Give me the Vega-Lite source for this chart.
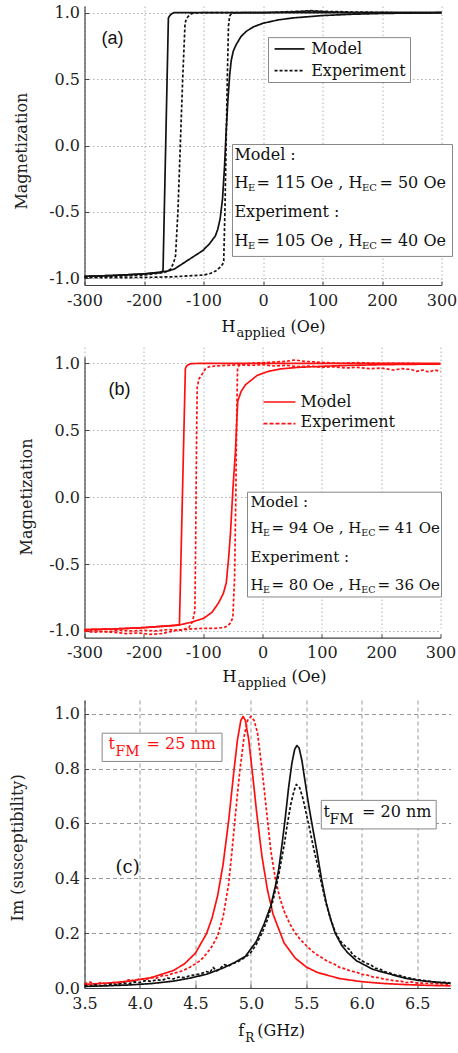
{
"$schema": "https://vega.github.io/schema/vega-lite/v6.json",
"background": "white",
"padding": {"left": 8.5, "top": 4, "right": 0, "bottom": 0},
"config": {
  "view": {"stroke": null},
  "font": "DejaVu Serif",
  "text": {"font": "DejaVu Serif", "fontSize": 16, "color": "#111"},
  "axis": {"labelFont": "DejaVu Serif", "labelFontSize": 16, "labelColor": "#222", "titleFont": "DejaVu Serif", "titleFontSize": 16, "titleFontWeight": "normal", "titleColor": "#222", "domainColor": "#444", "domainWidth": 1.2, "tickColor": "#444", "tickSize": -4, "tickWidth": 1, "labelFlush": false, "labelOverlap": false, "gridWidth": 1},
  "axisX": {"labelPadding": 11},
  "axisY": {"labelPadding": 9, "titleBaseline": "middle", "titleAlign": "center", "titleAngle": -90}
},
"spacing": 62,
"bounds": "flush",
"vconcat": [
{
"width": 357, "height": 279,
"layer": [
{"data": {"values": [
{"b":"Md","s":"Model","H":300,"M":1.0},{"b":"Md","s":"Model","H":200,"M":1.0},{"b":"Md","s":"Model","H":100,"M":1.0},{"b":"Md","s":"Model","H":0,"M":1.0},{"b":"Md","s":"Model","H":-100,"M":1.0},{"b":"Md","s":"Model","H":-150,"M":1.0},{"b":"Md","s":"Model","H":-154,"M":0.99},{"b":"Md","s":"Model","H":-157,"M":0.975},{"b":"Md","s":"Model","H":-159,"M":0.96},{"b":"Md","s":"Model","H":-168,"M":-0.94},{"b":"Md","s":"Model","H":-170,"M":-0.95},{"b":"Md","s":"Model","H":-175,"M":-0.958},{"b":"Md","s":"Model","H":-200,"M":-0.967},{"b":"Md","s":"Model","H":-250,"M":-0.978},{"b":"Md","s":"Model","H":-300,"M":-0.985},
{"b":"Ma","s":"Model","H":-300,"M":-0.985},{"b":"Ma","s":"Model","H":-250,"M":-0.978},{"b":"Ma","s":"Model","H":-200,"M":-0.966},{"b":"Ma","s":"Model","H":-170,"M":-0.952},{"b":"Ma","s":"Model","H":-160,"M":-0.945},{"b":"Ma","s":"Model","H":-149,"M":-0.93},{"b":"Ma","s":"Model","H":-125,"M":-0.86},{"b":"Ma","s":"Model","H":-101,"M":-0.79},{"b":"Ma","s":"Model","H":-90,"M":-0.74},{"b":"Ma","s":"Model","H":-80,"M":-0.68},{"b":"Ma","s":"Model","H":-76,"M":-0.63},{"b":"Ma","s":"Model","H":-72,"M":-0.55},{"b":"Ma","s":"Model","H":-68,"M":-0.4},{"b":"Ma","s":"Model","H":-64.7,"M":-0.16},{"b":"Ma","s":"Model","H":-62,"M":0.1},{"b":"Ma","s":"Model","H":-59,"M":0.34},{"b":"Ma","s":"Model","H":-56,"M":0.53},{"b":"Ma","s":"Model","H":-53.4,"M":0.64},{"b":"Ma","s":"Model","H":-50,"M":0.71},{"b":"Ma","s":"Model","H":-45,"M":0.76},{"b":"Ma","s":"Model","H":-37,"M":0.82},{"b":"Ma","s":"Model","H":-28,"M":0.86},{"b":"Ma","s":"Model","H":-15,"M":0.895},{"b":"Ma","s":"Model","H":0,"M":0.92},{"b":"Ma","s":"Model","H":25,"M":0.945},{"b":"Ma","s":"Model","H":50,"M":0.96},{"b":"Ma","s":"Model","H":100,"M":0.978},{"b":"Ma","s":"Model","H":150,"M":0.988},{"b":"Ma","s":"Model","H":200,"M":0.994},{"b":"Ma","s":"Model","H":300,"M":1.0},
{"b":"Ed","s":"Experiment","H":300,"M":1.0},{"b":"Ed","s":"Experiment","H":250,"M":1.0},{"b":"Ed","s":"Experiment","H":200,"M":1.002},{"b":"Ed","s":"Experiment","H":150,"M":1.005},{"b":"Ed","s":"Experiment","H":100,"M":1.01},{"b":"Ed","s":"Experiment","H":80,"M":1.015},{"b":"Ed","s":"Experiment","H":60,"M":1.01},{"b":"Ed","s":"Experiment","H":30,"M":1.005},{"b":"Ed","s":"Experiment","H":0,"M":1.0},{"b":"Ed","s":"Experiment","H":-50,"M":1.0},{"b":"Ed","s":"Experiment","H":-100,"M":1.0},{"b":"Ed","s":"Experiment","H":-115,"M":0.998},{"b":"Ed","s":"Experiment","H":-121,"M":0.99},{"b":"Ed","s":"Experiment","H":-126,"M":0.97},{"b":"Ed","s":"Experiment","H":-129,"M":0.95},{"b":"Ed","s":"Experiment","H":-131,"M":0.92},{"b":"Ed","s":"Experiment","H":-135,"M":0.5},{"b":"Ed","s":"Experiment","H":-139,"M":0},{"b":"Ed","s":"Experiment","H":-143,"M":-0.5},{"b":"Ed","s":"Experiment","H":-147,"M":-0.83},{"b":"Ed","s":"Experiment","H":-150,"M":-0.88},{"b":"Ed","s":"Experiment","H":-155,"M":-0.93},{"b":"Ed","s":"Experiment","H":-165,"M":-0.955},{"b":"Ed","s":"Experiment","H":-200,"M":-0.975},{"b":"Ed","s":"Experiment","H":-250,"M":-0.985},{"b":"Ed","s":"Experiment","H":-300,"M":-0.99},
{"b":"Ea","s":"Experiment","H":-300,"M":-0.995},{"b":"Ea","s":"Experiment","H":-250,"M":-0.995},{"b":"Ea","s":"Experiment","H":-200,"M":-0.993},{"b":"Ea","s":"Experiment","H":-150,"M":-0.988},{"b":"Ea","s":"Experiment","H":-120,"M":-0.98},{"b":"Ea","s":"Experiment","H":-100,"M":-0.975},{"b":"Ea","s":"Experiment","H":-90,"M":-0.965},{"b":"Ea","s":"Experiment","H":-84,"M":-0.955},{"b":"Ea","s":"Experiment","H":-78,"M":-0.94},{"b":"Ea","s":"Experiment","H":-72,"M":-0.915},{"b":"Ea","s":"Experiment","H":-68,"M":-0.895},{"b":"Ea","s":"Experiment","H":-66,"M":-0.87},{"b":"Ea","s":"Experiment","H":-64,"M":-0.5},{"b":"Ea","s":"Experiment","H":-62,"M":0},{"b":"Ea","s":"Experiment","H":-60,"M":0.5},{"b":"Ea","s":"Experiment","H":-58,"M":0.9},{"b":"Ea","s":"Experiment","H":-56,"M":0.975},{"b":"Ea","s":"Experiment","H":-52,"M":0.998},{"b":"Ea","s":"Experiment","H":-30,"M":1.0},{"b":"Ea","s":"Experiment","H":0,"M":1.0},{"b":"Ea","s":"Experiment","H":50,"M":1.005},{"b":"Ea","s":"Experiment","H":80,"M":1.012},{"b":"Ea","s":"Experiment","H":110,"M":1.005},{"b":"Ea","s":"Experiment","H":150,"M":1.0},{"b":"Ea","s":"Experiment","H":300,"M":1.0}
]},
 "mark": {"type": "line", "color": "#111", "strokeWidth": 1.7, "strokeJoin": "round"},
 "encoding": {
  "x": {"field": "H", "type": "quantitative", "scale": {"domain": [-300, 300], "nice": false, "zero": false},
        "axis": {"values": [-300,-250,-200,-150,-100,-50,0,50,100,150,200,250,300], "format": "d", "labelExpr": "datum.value % 100 === 0 ? replace(datum.label, '−', '-') : ''", "title": null, "grid": true, "gridDash": [1.5, 2.5], "gridColor": "#b0b0b0", "gridOpacity": {"condition": {"test": "datum.value % 100 !== 0", "value": 0}, "value": 1}}},
  "y": {"field": "M", "type": "quantitative", "scale": {"domain": [-1.05, 1.05], "nice": false, "zero": false},
        "axis": {"values": [-1,-0.75,-0.5,-0.25,0,0.25,0.5,0.75,1], "format": ".1f", "labelExpr": "abs(datum.value*2 - round(datum.value*2)) < 0.001 ? replace(datum.label, '−', '-') : ''", "title": "Magnetization", "titleX": -63.5, "titleY": 144.6, "grid": true, "gridDash": [1.5, 2.5], "gridColor": "#b0b0b0", "gridOpacity": {"condition": {"test": "abs(datum.value*2 - round(datum.value*2)) > 0.001", "value": 0}, "value": 1}}},
  "detail": {"field": "b"},
  "strokeDash": {"field": "s", "type": "nominal", "scale": {"domain": ["Model", "Experiment"], "range": [[1, 0], [3, 2]]}, "legend": null}
 }},
{"data": {"values": [{}]}, "mark": {"type": "rect", "fill": "white", "stroke": "#888", "strokeWidth": 1}, "encoding": {"x": {"datum": 9.25}, "x2": {"datum": 247.9}, "y": {"datum": 0.812}, "y2": {"datum": 0.474}}},
{"data": {"values": [{}]}, "mark": {"type": "rule", "color": "#111", "strokeWidth": 1.7}, "encoding": {"x": {"datum": 19.4}, "x2": {"datum": 69.8}, "y": {"datum": 0.727}}},
{"data": {"values": [{}]}, "mark": {"type": "rule", "color": "#111", "strokeWidth": 1.7, "strokeDash": [3, 2]}, "encoding": {"x": {"datum": 19.4}, "x2": {"datum": 69.8}, "y": {"datum": 0.564}}},
{"data": {"values": [{}]}, "mark": {"type": "text", "text": "Model", "align": "left", "baseline": "middle", "fontSize": 16}, "encoding": {"x": {"datum": 81}, "y": {"datum": 0.73}}},
{"data": {"values": [{}]}, "mark": {"type": "text", "text": "Experiment", "align": "left", "baseline": "middle", "fontSize": 16}, "encoding": {"x": {"datum": 81}, "y": {"datum": 0.564}}},
{"data": {"values": [{}]}, "mark": {"type": "rect", "fill": "white", "stroke": "#888", "strokeWidth": 1}, "encoding": {"x": {"datum": -51.3}, "x2": {"datum": 318.5}, "y": {"datum": 0.0075}, "y2": {"datum": -0.835}}},
{"data": {"values": [{}]}, "mark": {"type": "text", "text": "Model :", "align": "left", "baseline": "middle", "fontSize": 16}, "encoding": {"x": {"datum": -48}, "y": {"datum": -0.068}}},
{"data": {"values": [{}]}, "mark": {"type": "text", "text": "H", "align": "left", "baseline": "middle", "fontSize": 16}, "encoding": {"x": {"datum": -48}, "y": {"datum": -0.286}}},
{"data": {"values": [{}]}, "mark": {"type": "text", "text": "E", "align": "left", "baseline": "middle", "fontSize": 10, "dx": 13.5, "dy": 5}, "encoding": {"x": {"datum": -48}, "y": {"datum": -0.286}}},
{"data": {"values": [{}]}, "mark": {"type": "text", "text": "= 115 Oe , H", "align": "left", "baseline": "middle", "fontSize": 16, "dx": 22}, "encoding": {"x": {"datum": -48}, "y": {"datum": -0.286}}},
{"data": {"values": [{}]}, "mark": {"type": "text", "text": "EC", "align": "left", "baseline": "middle", "fontSize": 10, "dx": 127.5, "dy": 5}, "encoding": {"x": {"datum": -48}, "y": {"datum": -0.286}}},
{"data": {"values": [{}]}, "mark": {"type": "text", "text": "= 50 Oe", "align": "left", "baseline": "middle", "fontSize": 16, "dx": 145}, "encoding": {"x": {"datum": -48}, "y": {"datum": -0.286}}},
{"data": {"values": [{}]}, "mark": {"type": "text", "text": "Experiment :", "align": "left", "baseline": "middle", "fontSize": 16}, "encoding": {"x": {"datum": -48}, "y": {"datum": -0.504}}},
{"data": {"values": [{}]}, "mark": {"type": "text", "text": "H", "align": "left", "baseline": "middle", "fontSize": 16}, "encoding": {"x": {"datum": -48}, "y": {"datum": -0.722}}},
{"data": {"values": [{}]}, "mark": {"type": "text", "text": "E", "align": "left", "baseline": "middle", "fontSize": 10, "dx": 13.5, "dy": 5}, "encoding": {"x": {"datum": -48}, "y": {"datum": -0.722}}},
{"data": {"values": [{}]}, "mark": {"type": "text", "text": "= 105 Oe , H", "align": "left", "baseline": "middle", "fontSize": 16, "dx": 22}, "encoding": {"x": {"datum": -48}, "y": {"datum": -0.722}}},
{"data": {"values": [{}]}, "mark": {"type": "text", "text": "EC", "align": "left", "baseline": "middle", "fontSize": 10, "dx": 127.5, "dy": 5}, "encoding": {"x": {"datum": -48}, "y": {"datum": -0.722}}},
{"data": {"values": [{}]}, "mark": {"type": "text", "text": "= 40 Oe", "align": "left", "baseline": "middle", "fontSize": 16, "dx": 145}, "encoding": {"x": {"datum": -48}, "y": {"datum": -0.722}}},
{"data": {"values": [{}]}, "mark": {"type": "text", "text": "(a)", "align": "left", "baseline": "middle", "fontSize": 18, "font": "Liberation Sans"}, "encoding": {"x": {"datum": -271.4}, "y": {"datum": 0.805}}},
{"data": {"values": [{}]}, "mark": {"type": "text", "text": "H", "align": "left", "baseline": "alphabetic", "fontSize": 16, "dy": 47}, "encoding": {"x": {"datum": -69.7}, "y": {"datum": -1.05}}},
{"data": {"values": [{}]}, "mark": {"type": "text", "text": "applied", "align": "left", "baseline": "alphabetic", "fontSize": 13, "dx": 15, "dy": 52}, "encoding": {"x": {"datum": -69.7}, "y": {"datum": -1.05}}},
{"data": {"values": [{}]}, "mark": {"type": "text", "text": "(Oe)", "align": "left", "baseline": "alphabetic", "fontSize": 16, "dx": 69, "dy": 47}, "encoding": {"x": {"datum": -69.7}, "y": {"datum": -1.05}}}
]
},
{
"width": 356, "height": 290.65,
"layer": [
{"data": {"values": [
{"b":"Md","s":"Model","H":300,"M":1.0},{"b":"Md","s":"Model","H":0,"M":1.0},{"b":"Md","s":"Model","H":-100,"M":1.0},{"b":"Md","s":"Model","H":-120,"M":0.998},{"b":"Md","s":"Model","H":-125,"M":0.99},{"b":"Md","s":"Model","H":-128,"M":0.98},{"b":"Md","s":"Model","H":-130,"M":0.96},{"b":"Md","s":"Model","H":-140,"M":-0.955},{"b":"Md","s":"Model","H":-150,"M":-0.96},{"b":"Md","s":"Model","H":-200,"M":-0.975},{"b":"Md","s":"Model","H":-250,"M":-0.985},{"b":"Md","s":"Model","H":-300,"M":-0.99},
{"b":"Ma","s":"Model","H":-300,"M":-0.99},{"b":"Ma","s":"Model","H":-250,"M":-0.985},{"b":"Ma","s":"Model","H":-200,"M":-0.975},{"b":"Ma","s":"Model","H":-140,"M":-0.955},{"b":"Ma","s":"Model","H":-120,"M":-0.935},{"b":"Ma","s":"Model","H":-99,"M":-0.905},{"b":"Ma","s":"Model","H":-85,"M":-0.86},{"b":"Ma","s":"Model","H":-74,"M":-0.79},{"b":"Ma","s":"Model","H":-66,"M":-0.72},{"b":"Ma","s":"Model","H":-61,"M":-0.64},{"b":"Ma","s":"Model","H":-57,"M":-0.45},{"b":"Ma","s":"Model","H":-54,"M":-0.27},{"b":"Ma","s":"Model","H":-50,"M":0.05},{"b":"Ma","s":"Model","H":-45.5,"M":0.35},{"b":"Ma","s":"Model","H":-43,"M":0.6},{"b":"Ma","s":"Model","H":-41.6,"M":0.72},{"b":"Ma","s":"Model","H":-36,"M":0.79},{"b":"Ma","s":"Model","H":-28.6,"M":0.84},{"b":"Ma","s":"Model","H":-9,"M":0.91},{"b":"Ma","s":"Model","H":10,"M":0.94},{"b":"Ma","s":"Model","H":30,"M":0.958},{"b":"Ma","s":"Model","H":60,"M":0.97},{"b":"Ma","s":"Model","H":100,"M":0.978},{"b":"Ma","s":"Model","H":150,"M":0.985},{"b":"Ma","s":"Model","H":200,"M":0.99},{"b":"Ma","s":"Model","H":300,"M":0.995},
{"b":"Ed","s":"Experiment","H":300,"M":0.94},{"b":"Ed","s":"Experiment","H":290,"M":0.95},{"b":"Ed","s":"Experiment","H":280,"M":0.935},{"b":"Ed","s":"Experiment","H":270,"M":0.95},{"b":"Ed","s":"Experiment","H":260,"M":0.94},{"b":"Ed","s":"Experiment","H":250,"M":0.955},{"b":"Ed","s":"Experiment","H":235,"M":0.96},{"b":"Ed","s":"Experiment","H":220,"M":0.95},{"b":"Ed","s":"Experiment","H":200,"M":0.965},{"b":"Ed","s":"Experiment","H":180,"M":0.96},{"b":"Ed","s":"Experiment","H":160,"M":0.97},{"b":"Ed","s":"Experiment","H":140,"M":0.965},{"b":"Ed","s":"Experiment","H":120,"M":0.975},{"b":"Ed","s":"Experiment","H":100,"M":0.97},{"b":"Ed","s":"Experiment","H":80,"M":0.98},{"b":"Ed","s":"Experiment","H":60,"M":0.975},{"b":"Ed","s":"Experiment","H":40,"M":0.985},{"b":"Ed","s":"Experiment","H":20,"M":0.98},{"b":"Ed","s":"Experiment","H":0,"M":0.99},{"b":"Ed","s":"Experiment","H":-20,"M":0.985},{"b":"Ed","s":"Experiment","H":-40,"M":0.99},{"b":"Ed","s":"Experiment","H":-60,"M":0.985},{"b":"Ed","s":"Experiment","H":-80,"M":0.98},{"b":"Ed","s":"Experiment","H":-90,"M":0.975},{"b":"Ed","s":"Experiment","H":-96,"M":0.96},{"b":"Ed","s":"Experiment","H":-99,"M":0.94},{"b":"Ed","s":"Experiment","H":-103,"M":0.91},{"b":"Ed","s":"Experiment","H":-107,"M":0.885},{"b":"Ed","s":"Experiment","H":-110,"M":0.82},{"b":"Ed","s":"Experiment","H":-111,"M":0.5},{"b":"Ed","s":"Experiment","H":-112,"M":0},{"b":"Ed","s":"Experiment","H":-113,"M":-0.5},{"b":"Ed","s":"Experiment","H":-114,"M":-0.85},{"b":"Ed","s":"Experiment","H":-118,"M":-0.93},{"b":"Ed","s":"Experiment","H":-124,"M":-0.975},{"b":"Ed","s":"Experiment","H":-135,"M":-0.99},{"b":"Ed","s":"Experiment","H":-150,"M":-1.0},{"b":"Ed","s":"Experiment","H":-170,"M":-1.02},{"b":"Ed","s":"Experiment","H":-190,"M":-1.025},{"b":"Ed","s":"Experiment","H":-210,"M":-1.015},{"b":"Ed","s":"Experiment","H":-230,"M":-1.02},{"b":"Ed","s":"Experiment","H":-250,"M":-1.01},{"b":"Ed","s":"Experiment","H":-270,"M":-1.005},{"b":"Ed","s":"Experiment","H":-285,"M":-1.01},{"b":"Ed","s":"Experiment","H":-300,"M":-1.0},
{"b":"Ea","s":"Experiment","H":-300,"M":-1.0},{"b":"Ea","s":"Experiment","H":-280,"M":-1.0},{"b":"Ea","s":"Experiment","H":-260,"M":-1.005},{"b":"Ea","s":"Experiment","H":-240,"M":-0.995},{"b":"Ea","s":"Experiment","H":-220,"M":-1.0},{"b":"Ea","s":"Experiment","H":-200,"M":-0.995},{"b":"Ea","s":"Experiment","H":-180,"M":-1.0},{"b":"Ea","s":"Experiment","H":-160,"M":-0.99},{"b":"Ea","s":"Experiment","H":-140,"M":-0.995},{"b":"Ea","s":"Experiment","H":-120,"M":-0.985},{"b":"Ea","s":"Experiment","H":-100,"M":-0.98},{"b":"Ea","s":"Experiment","H":-80,"M":-0.98},{"b":"Ea","s":"Experiment","H":-65,"M":-0.975},{"b":"Ea","s":"Experiment","H":-58,"M":-0.96},{"b":"Ea","s":"Experiment","H":-54,"M":-0.94},{"b":"Ea","s":"Experiment","H":-50,"M":-0.9},{"b":"Ea","s":"Experiment","H":-47,"M":-0.6},{"b":"Ea","s":"Experiment","H":-45,"M":0},{"b":"Ea","s":"Experiment","H":-43.5,"M":0.6},{"b":"Ea","s":"Experiment","H":-42,"M":0.97},{"b":"Ea","s":"Experiment","H":-38,"M":0.99},{"b":"Ea","s":"Experiment","H":-20,"M":1.0},{"b":"Ea","s":"Experiment","H":0,"M":1.005},{"b":"Ea","s":"Experiment","H":20,"M":1.01},{"b":"Ea","s":"Experiment","H":40,"M":1.015},{"b":"Ea","s":"Experiment","H":55,"M":1.025},{"b":"Ea","s":"Experiment","H":70,"M":1.015},{"b":"Ea","s":"Experiment","H":90,"M":1.01},{"b":"Ea","s":"Experiment","H":110,"M":1.005},{"b":"Ea","s":"Experiment","H":130,"M":1.0},{"b":"Ea","s":"Experiment","H":160,"M":1.005},{"b":"Ea","s":"Experiment","H":190,"M":1.0},{"b":"Ea","s":"Experiment","H":220,"M":1.0},{"b":"Ea","s":"Experiment","H":250,"M":1.0},{"b":"Ea","s":"Experiment","H":280,"M":0.995},{"b":"Ea","s":"Experiment","H":300,"M":0.995}
]},
 "mark": {"type": "line", "color": "#ff1010", "strokeWidth": 1.7, "strokeJoin": "round"},
 "encoding": {
  "x": {"field": "H", "type": "quantitative", "scale": {"domain": [-300, 300], "nice": false, "zero": false},
        "axis": {"values": [-300,-250,-200,-150,-100,-50,0,50,100,150,200,250,300], "format": "d", "labelExpr": "datum.value % 100 === 0 ? replace(datum.label, '−', '-') : ''", "title": null, "grid": true, "gridDash": [1.5, 2.5], "gridColor": "#b0b0b0", "gridOpacity": {"condition": {"test": "datum.value % 100 !== 0", "value": 0}, "value": 1}}},
  "y": {"field": "M", "type": "quantitative", "scale": {"domain": [-1.05, 1.05], "nice": false, "zero": false, "range": [290.65, 9.65]},
        "axis": {"values": [-1,-0.75,-0.5,-0.25,0,0.25,0.5,0.75,1], "format": ".1f", "labelExpr": "abs(datum.value*2 - round(datum.value*2)) < 0.001 ? replace(datum.label, '−', '-') : ''", "title": "Magnetization", "titleX": -58.5, "titleY": 149.5, "grid": true, "gridDash": [1.5, 2.5], "gridColor": "#b0b0b0", "gridOpacity": {"condition": {"test": "abs(datum.value*2 - round(datum.value*2)) > 0.001", "value": 0}, "value": 1}}},
  "detail": {"field": "b"},
  "strokeDash": {"field": "s", "type": "nominal", "scale": {"domain": ["Model", "Experiment"], "range": [[1, 0], [4, 2]]}, "legend": null}
 }},
{"data": {"values": [{}]}, "mark": {"type": "rule", "color": "#ff1010", "strokeWidth": 1.7}, "encoding": {"x": {"datum": 1.7}, "x2": {"datum": 55.6}, "y": {"datum": 0.711}}},
{"data": {"values": [{}]}, "mark": {"type": "rule", "color": "#ff1010", "strokeWidth": 1.7, "strokeDash": [4, 2]}, "encoding": {"x": {"datum": 1.7}, "x2": {"datum": 55.6}, "y": {"datum": 0.55}}},
{"data": {"values": [{}]}, "mark": {"type": "text", "text": "Model", "align": "left", "baseline": "middle", "fontSize": 16}, "encoding": {"x": {"datum": 64}, "y": {"datum": 0.711}}},
{"data": {"values": [{}]}, "mark": {"type": "text", "text": "Experiment", "align": "left", "baseline": "middle", "fontSize": 16}, "encoding": {"x": {"datum": 64}, "y": {"datum": 0.562}}},
{"data": {"values": [{}]}, "mark": {"type": "rect", "fill": "white", "stroke": "#888", "strokeWidth": 1}, "encoding": {"x": {"datum": -25.3}, "x2": {"datum": 301.7}, "y": {"datum": 0.037}, "y2": {"datum": -0.746}}},
{"data": {"values": [{}]}, "mark": {"type": "text", "text": "Model :", "align": "left", "baseline": "middle", "fontSize": 15}, "encoding": {"x": {"datum": -20.2}, "y": {"datum": -0.037}}},
{"data": {"values": [{}]}, "mark": {"type": "text", "text": "H", "align": "left", "baseline": "middle", "fontSize": 15}, "encoding": {"x": {"datum": -20.2}, "y": {"datum": -0.231}}},
{"data": {"values": [{}]}, "mark": {"type": "text", "text": "E", "align": "left", "baseline": "middle", "fontSize": 9.5, "dx": 12.5, "dy": 5}, "encoding": {"x": {"datum": -20.2}, "y": {"datum": -0.231}}},
{"data": {"values": [{}]}, "mark": {"type": "text", "text": "= 94 Oe , H", "align": "left", "baseline": "middle", "fontSize": 15, "dx": 21}, "encoding": {"x": {"datum": -20.2}, "y": {"datum": -0.231}}},
{"data": {"values": [{}]}, "mark": {"type": "text", "text": "EC", "align": "left", "baseline": "middle", "fontSize": 9.5, "dx": 110.8, "dy": 5}, "encoding": {"x": {"datum": -20.2}, "y": {"datum": -0.231}}},
{"data": {"values": [{}]}, "mark": {"type": "text", "text": "= 41 Oe", "align": "left", "baseline": "middle", "fontSize": 15, "dx": 127}, "encoding": {"x": {"datum": -20.2}, "y": {"datum": -0.231}}},
{"data": {"values": [{}]}, "mark": {"type": "text", "text": "Experiment :", "align": "left", "baseline": "middle", "fontSize": 15}, "encoding": {"x": {"datum": -20.2}, "y": {"datum": -0.448}}},
{"data": {"values": [{}]}, "mark": {"type": "text", "text": "H", "align": "left", "baseline": "middle", "fontSize": 15}, "encoding": {"x": {"datum": -20.2}, "y": {"datum": -0.657}}},
{"data": {"values": [{}]}, "mark": {"type": "text", "text": "E", "align": "left", "baseline": "middle", "fontSize": 9.5, "dx": 12.5, "dy": 5}, "encoding": {"x": {"datum": -20.2}, "y": {"datum": -0.657}}},
{"data": {"values": [{}]}, "mark": {"type": "text", "text": "= 80 Oe , H", "align": "left", "baseline": "middle", "fontSize": 15, "dx": 21}, "encoding": {"x": {"datum": -20.2}, "y": {"datum": -0.657}}},
{"data": {"values": [{}]}, "mark": {"type": "text", "text": "EC", "align": "left", "baseline": "middle", "fontSize": 9.5, "dx": 110.8, "dy": 5}, "encoding": {"x": {"datum": -20.2}, "y": {"datum": -0.657}}},
{"data": {"values": [{}]}, "mark": {"type": "text", "text": "= 36 Oe", "align": "left", "baseline": "middle", "fontSize": 15, "dx": 127}, "encoding": {"x": {"datum": -20.2}, "y": {"datum": -0.657}}},
{"data": {"values": [{}]}, "mark": {"type": "text", "text": "(b)", "align": "left", "baseline": "middle", "fontSize": 18, "font": "Liberation Sans"}, "encoding": {"x": {"datum": -259.5}, "y": {"datum": 0.8}}},
{"data": {"values": [{}]}, "mark": {"type": "text", "text": "H", "align": "left", "baseline": "alphabetic", "fontSize": 16, "dy": 44}, "encoding": {"x": {"datum": -67.4}, "y": {"datum": -1.05}}},
{"data": {"values": [{}]}, "mark": {"type": "text", "text": "applied", "align": "left", "baseline": "alphabetic", "fontSize": 13, "dx": 15, "dy": 49}, "encoding": {"x": {"datum": -67.4}, "y": {"datum": -1.05}}},
{"data": {"values": [{}]}, "mark": {"type": "text", "text": "(Oe)", "align": "left", "baseline": "alphabetic", "fontSize": 16, "dx": 69, "dy": 44}, "encoding": {"x": {"datum": -67.4}, "y": {"datum": -1.05}}}
]
},
{
"width": 366, "height": 288,
"layer": [
{"data": {"values": [
{"t":"25","s":"Model","f":3.5,"v":0.013},{"t":"25","s":"Model","f":3.7,"v":0.0175},{"t":"25","s":"Model","f":3.9,"v":0.0248},{"t":"25","s":"Model","f":4.1,"v":0.0376},{"t":"25","s":"Model","f":4.3,"v":0.0636},{"t":"25","s":"Model","f":4.4,"v":0.0875},{"t":"25","s":"Model","f":4.5,"v":0.127},{"t":"25","s":"Model","f":4.6,"v":0.198},{"t":"25","s":"Model","f":4.65,"v":0.255},{"t":"25","s":"Model","f":4.7,"v":0.336},{"t":"25","s":"Model","f":4.75,"v":0.452},{"t":"25","s":"Model","f":4.8,"v":0.611},{"t":"25","s":"Model","f":4.85,"v":0.802},{"t":"25","s":"Model","f":4.88,"v":0.907},{"t":"25","s":"Model","f":4.91,"v":0.976},{"t":"25","s":"Model","f":4.93,"v":0.99},{"t":"25","s":"Model","f":4.95,"v":0.976},{"t":"25","s":"Model","f":4.98,"v":0.907},{"t":"25","s":"Model","f":5.02,"v":0.763},{"t":"25","s":"Model","f":5.05,"v":0.648},{"t":"25","s":"Model","f":5.1,"v":0.48},{"t":"25","s":"Model","f":5.15,"v":0.357},{"t":"25","s":"Model","f":5.2,"v":0.269},{"t":"25","s":"Model","f":5.3,"v":0.164},{"t":"25","s":"Model","f":5.4,"v":0.109},{"t":"25","s":"Model","f":5.5,"v":0.0766},{"t":"25","s":"Model","f":5.6,"v":0.0566},{"t":"25","s":"Model","f":5.8,"v":0.0344},{"t":"25","s":"Model","f":6.0,"v":0.023},{"t":"25","s":"Model","f":6.2,"v":0.0164},{"t":"25","s":"Model","f":6.4,"v":0.0123},{"t":"25","s":"Model","f":6.6,"v":0.0096},{"t":"25","s":"Model","f":6.8,"v":0.0077},
{"t":"25","s":"Experiment","f":3.5,"v":0.015},{"t":"25","s":"Experiment","f":3.55,"v":0.022},{"t":"25","s":"Experiment","f":3.6,"v":0.012},{"t":"25","s":"Experiment","f":3.65,"v":0.02},{"t":"25","s":"Experiment","f":3.7,"v":0.014},{"t":"25","s":"Experiment","f":3.75,"v":0.021},{"t":"25","s":"Experiment","f":3.8,"v":0.016},{"t":"25","s":"Experiment","f":3.85,"v":0.022},{"t":"25","s":"Experiment","f":3.9,"v":0.03},{"t":"25","s":"Experiment","f":3.95,"v":0.026},{"t":"25","s":"Experiment","f":4.0,"v":0.034},{"t":"25","s":"Experiment","f":4.05,"v":0.03},{"t":"25","s":"Experiment","f":4.1,"v":0.038},{"t":"25","s":"Experiment","f":4.15,"v":0.036},{"t":"25","s":"Experiment","f":4.2,"v":0.045},{"t":"25","s":"Experiment","f":4.25,"v":0.046},{"t":"25","s":"Experiment","f":4.3,"v":0.054},{"t":"25","s":"Experiment","f":4.35,"v":0.058},{"t":"25","s":"Experiment","f":4.4,"v":0.066},{"t":"25","s":"Experiment","f":4.45,"v":0.076},{"t":"25","s":"Experiment","f":4.5,"v":0.088},{"t":"25","s":"Experiment","f":4.55,"v":0.102},{"t":"25","s":"Experiment","f":4.6,"v":0.125},{"t":"25","s":"Experiment","f":4.65,"v":0.152},{"t":"25","s":"Experiment","f":4.7,"v":0.19},{"t":"25","s":"Experiment","f":4.75,"v":0.26},{"t":"25","s":"Experiment","f":4.8,"v":0.38},{"t":"25","s":"Experiment","f":4.83,"v":0.5},{"t":"25","s":"Experiment","f":4.87,"v":0.67},{"t":"25","s":"Experiment","f":4.9,"v":0.79},{"t":"25","s":"Experiment","f":4.94,"v":0.92},{"t":"25","s":"Experiment","f":4.97,"v":0.975},{"t":"25","s":"Experiment","f":5.0,"v":0.99},{"t":"25","s":"Experiment","f":5.03,"v":0.975},{"t":"25","s":"Experiment","f":5.06,"v":0.93},{"t":"25","s":"Experiment","f":5.1,"v":0.8},{"t":"25","s":"Experiment","f":5.14,"v":0.65},{"t":"25","s":"Experiment","f":5.18,"v":0.5},{"t":"25","s":"Experiment","f":5.22,"v":0.4},{"t":"25","s":"Experiment","f":5.26,"v":0.33},{"t":"25","s":"Experiment","f":5.3,"v":0.28},{"t":"25","s":"Experiment","f":5.35,"v":0.235},{"t":"25","s":"Experiment","f":5.4,"v":0.2},{"t":"25","s":"Experiment","f":5.45,"v":0.175},{"t":"25","s":"Experiment","f":5.5,"v":0.155},{"t":"25","s":"Experiment","f":5.55,"v":0.135},{"t":"25","s":"Experiment","f":5.6,"v":0.12},{"t":"25","s":"Experiment","f":5.65,"v":0.108},{"t":"25","s":"Experiment","f":5.7,"v":0.095},{"t":"25","s":"Experiment","f":5.75,"v":0.088},{"t":"25","s":"Experiment","f":5.8,"v":0.075},{"t":"25","s":"Experiment","f":5.85,"v":0.07},{"t":"25","s":"Experiment","f":5.9,"v":0.062},{"t":"25","s":"Experiment","f":5.95,"v":0.058},{"t":"25","s":"Experiment","f":6.0,"v":0.05},{"t":"25","s":"Experiment","f":6.05,"v":0.047},{"t":"25","s":"Experiment","f":6.1,"v":0.04},{"t":"25","s":"Experiment","f":6.15,"v":0.038},{"t":"25","s":"Experiment","f":6.2,"v":0.032},{"t":"25","s":"Experiment","f":6.25,"v":0.03},{"t":"25","s":"Experiment","f":6.3,"v":0.026},{"t":"25","s":"Experiment","f":6.35,"v":0.025},{"t":"25","s":"Experiment","f":6.4,"v":0.02},{"t":"25","s":"Experiment","f":6.45,"v":0.022},{"t":"25","s":"Experiment","f":6.5,"v":0.018},{"t":"25","s":"Experiment","f":6.6,"v":0.017},{"t":"25","s":"Experiment","f":6.7,"v":0.015},{"t":"25","s":"Experiment","f":6.8,"v":0.014},
{"t":"20","s":"Model","f":3.5,"v":0.006},{"t":"20","s":"Model","f":3.7,"v":0.008},{"t":"20","s":"Model","f":3.9,"v":0.011},{"t":"20","s":"Model","f":4.1,"v":0.016},{"t":"20","s":"Model","f":4.3,"v":0.025},{"t":"20","s":"Model","f":4.45,"v":0.036},{"t":"20","s":"Model","f":4.6,"v":0.05},{"t":"20","s":"Model","f":4.75,"v":0.073},{"t":"20","s":"Model","f":4.85,"v":0.092},{"t":"20","s":"Model","f":4.95,"v":0.115},{"t":"20","s":"Model","f":5.05,"v":0.17},{"t":"20","s":"Model","f":5.12,"v":0.234},{"t":"20","s":"Model","f":5.18,"v":0.3},{"t":"20","s":"Model","f":5.22,"v":0.37},{"t":"20","s":"Model","f":5.25,"v":0.43},{"t":"20","s":"Model","f":5.28,"v":0.52},{"t":"20","s":"Model","f":5.31,"v":0.62},{"t":"20","s":"Model","f":5.34,"v":0.73},{"t":"20","s":"Model","f":5.37,"v":0.82},{"t":"20","s":"Model","f":5.395,"v":0.87},{"t":"20","s":"Model","f":5.415,"v":0.884},{"t":"20","s":"Model","f":5.435,"v":0.875},{"t":"20","s":"Model","f":5.46,"v":0.83},{"t":"20","s":"Model","f":5.49,"v":0.75},{"t":"20","s":"Model","f":5.52,"v":0.67},{"t":"20","s":"Model","f":5.55,"v":0.6},{"t":"20","s":"Model","f":5.595,"v":0.5},{"t":"20","s":"Model","f":5.64,"v":0.39},{"t":"20","s":"Model","f":5.68,"v":0.31},{"t":"20","s":"Model","f":5.72,"v":0.25},{"t":"20","s":"Model","f":5.76,"v":0.2},{"t":"20","s":"Model","f":5.82,"v":0.155},{"t":"20","s":"Model","f":5.87,"v":0.13},{"t":"20","s":"Model","f":5.95,"v":0.1},{"t":"20","s":"Model","f":6.02,"v":0.085},{"t":"20","s":"Model","f":6.1,"v":0.068},{"t":"20","s":"Model","f":6.26,"v":0.05},{"t":"20","s":"Model","f":6.4,"v":0.035},{"t":"20","s":"Model","f":6.53,"v":0.027},{"t":"20","s":"Model","f":6.65,"v":0.022},{"t":"20","s":"Model","f":6.8,"v":0.017},
{"t":"20","s":"Experiment","f":3.5,"v":0.01},{"t":"20","s":"Experiment","f":3.55,"v":0.006},{"t":"20","s":"Experiment","f":3.6,"v":0.012},{"t":"20","s":"Experiment","f":3.65,"v":0.008},{"t":"20","s":"Experiment","f":3.7,"v":0.011},{"t":"20","s":"Experiment","f":3.75,"v":0.015},{"t":"20","s":"Experiment","f":3.8,"v":0.012},{"t":"20","s":"Experiment","f":3.85,"v":0.018},{"t":"20","s":"Experiment","f":3.9,"v":0.016},{"t":"20","s":"Experiment","f":3.95,"v":0.022},{"t":"20","s":"Experiment","f":4.0,"v":0.02},{"t":"20","s":"Experiment","f":4.05,"v":0.027},{"t":"20","s":"Experiment","f":4.1,"v":0.024},{"t":"20","s":"Experiment","f":4.15,"v":0.03},{"t":"20","s":"Experiment","f":4.2,"v":0.028},{"t":"20","s":"Experiment","f":4.25,"v":0.036},{"t":"20","s":"Experiment","f":4.3,"v":0.033},{"t":"20","s":"Experiment","f":4.35,"v":0.04},{"t":"20","s":"Experiment","f":4.4,"v":0.038},{"t":"20","s":"Experiment","f":4.45,"v":0.045},{"t":"20","s":"Experiment","f":4.5,"v":0.048},{"t":"20","s":"Experiment","f":4.55,"v":0.052},{"t":"20","s":"Experiment","f":4.6,"v":0.06},{"t":"20","s":"Experiment","f":4.63,"v":0.056},{"t":"20","s":"Experiment","f":4.66,"v":0.075},{"t":"20","s":"Experiment","f":4.69,"v":0.062},{"t":"20","s":"Experiment","f":4.72,"v":0.07},{"t":"20","s":"Experiment","f":4.76,"v":0.085},{"t":"20","s":"Experiment","f":4.8,"v":0.08},{"t":"20","s":"Experiment","f":4.84,"v":0.09},{"t":"20","s":"Experiment","f":4.88,"v":0.095},{"t":"20","s":"Experiment","f":4.92,"v":0.105},{"t":"20","s":"Experiment","f":4.96,"v":0.115},{"t":"20","s":"Experiment","f":5.0,"v":0.13},{"t":"20","s":"Experiment","f":5.05,"v":0.16},{"t":"20","s":"Experiment","f":5.1,"v":0.2},{"t":"20","s":"Experiment","f":5.15,"v":0.25},{"t":"20","s":"Experiment","f":5.2,"v":0.32},{"t":"20","s":"Experiment","f":5.25,"v":0.41},{"t":"20","s":"Experiment","f":5.3,"v":0.52},{"t":"20","s":"Experiment","f":5.33,"v":0.6},{"t":"20","s":"Experiment","f":5.36,"v":0.67},{"t":"20","s":"Experiment","f":5.39,"v":0.72},{"t":"20","s":"Experiment","f":5.41,"v":0.742},{"t":"20","s":"Experiment","f":5.44,"v":0.73},{"t":"20","s":"Experiment","f":5.47,"v":0.69},{"t":"20","s":"Experiment","f":5.5,"v":0.635},{"t":"20","s":"Experiment","f":5.53,"v":0.58},{"t":"20","s":"Experiment","f":5.56,"v":0.52},{"t":"20","s":"Experiment","f":5.6,"v":0.45},{"t":"20","s":"Experiment","f":5.64,"v":0.375},{"t":"20","s":"Experiment","f":5.68,"v":0.305},{"t":"20","s":"Experiment","f":5.72,"v":0.25},{"t":"20","s":"Experiment","f":5.76,"v":0.205},{"t":"20","s":"Experiment","f":5.8,"v":0.175},{"t":"20","s":"Experiment","f":5.83,"v":0.16},{"t":"20","s":"Experiment","f":5.86,"v":0.15},{"t":"20","s":"Experiment","f":5.89,"v":0.14},{"t":"20","s":"Experiment","f":5.92,"v":0.12},{"t":"20","s":"Experiment","f":5.96,"v":0.11},{"t":"20","s":"Experiment","f":6.0,"v":0.1},{"t":"20","s":"Experiment","f":6.04,"v":0.09},{"t":"20","s":"Experiment","f":6.08,"v":0.085},{"t":"20","s":"Experiment","f":6.12,"v":0.072},{"t":"20","s":"Experiment","f":6.16,"v":0.07},{"t":"20","s":"Experiment","f":6.2,"v":0.06},{"t":"20","s":"Experiment","f":6.25,"v":0.055},{"t":"20","s":"Experiment","f":6.3,"v":0.048},{"t":"20","s":"Experiment","f":6.35,"v":0.045},{"t":"20","s":"Experiment","f":6.4,"v":0.038},{"t":"20","s":"Experiment","f":6.45,"v":0.035},{"t":"20","s":"Experiment","f":6.5,"v":0.03},{"t":"20","s":"Experiment","f":6.55,"v":0.028},{"t":"20","s":"Experiment","f":6.6,"v":0.025},{"t":"20","s":"Experiment","f":6.65,"v":0.022},{"t":"20","s":"Experiment","f":6.7,"v":0.02},{"t":"20","s":"Experiment","f":6.75,"v":0.021},{"t":"20","s":"Experiment","f":6.8,"v":0.018}
]},
 "mark": {"type": "line", "strokeWidth": 1.7, "strokeJoin": "round"},
 "encoding": {
  "x": {"field": "f", "type": "quantitative", "scale": {"domain": [3.5, 6.8], "nice": false, "zero": false},
        "axis": {"values": [3.5,3.75,4,4.25,4.5,4.75,5,5.25,5.5,5.75,6,6.25,6.5,6.75], "format": ".1f", "labelExpr": "round(datum.value*4) % 2 === 0 ? datum.label : ''", "title": null, "grid": true, "gridDash": [4, 3], "gridColor": "#999", "gridOpacity": {"condition": {"test": "round(datum.value*4) % 2 !== 0", "value": 0}, "value": 1}}},
  "y": {"field": "v", "type": "quantitative", "scale": {"domain": [0, 1.05], "nice": false, "zero": false},
        "axis": {"values": [0,0.1,0.2,0.3,0.4,0.5,0.6,0.7,0.8,0.9,1.0], "format": ".1f", "labelExpr": "round(datum.value*10) % 2 === 0 ? datum.label : ''", "title": "Im (susceptibility)", "titleX": -67.5, "titleY": 147.4, "grid": true, "gridDash": [4, 3], "gridColor": "#999", "gridOpacity": {"condition": {"test": "round(datum.value*10) % 2 !== 0", "value": 0}, "value": 1}}},
  "color": {"field": "t", "type": "nominal", "scale": {"domain": ["25", "20"], "range": ["#ff1010", "#111111"]}, "legend": null},
  "strokeDash": {"field": "s", "type": "nominal", "scale": {"domain": ["Model", "Experiment"], "range": [[1, 0], [5, 2]]}, "legend": null}
 }},
{"data": {"values": [{}]}, "mark": {"type": "rect", "fill": "white", "stroke": "#888", "strokeWidth": 1}, "encoding": {"x": {"datum": 3.659}, "x2": {"datum": 4.74}, "y": {"datum": 0.929}, "y2": {"datum": 0.826}}},
{"data": {"values": [{}]}, "mark": {"type": "text", "text": "t", "align": "left", "baseline": "middle", "fontSize": 16, "color": "#ff1010"}, "encoding": {"x": {"datum": 3.716}, "y": {"datum": 0.888}}},
{"data": {"values": [{}]}, "mark": {"type": "text", "text": "FM", "align": "left", "baseline": "middle", "fontSize": 14, "dx": 7, "dy": 8, "color": "#ff1010"}, "encoding": {"x": {"datum": 3.716}, "y": {"datum": 0.888}}},
{"data": {"values": [{}]}, "mark": {"type": "text", "text": "= 25 nm", "align": "left", "baseline": "middle", "fontSize": 16, "dx": 38, "color": "#ff1010"}, "encoding": {"x": {"datum": 3.716}, "y": {"datum": 0.888}}},
{"data": {"values": [{}]}, "mark": {"type": "rect", "fill": "white", "stroke": "#888", "strokeWidth": 1}, "encoding": {"x": {"datum": 5.635}, "x2": {"datum": 6.671}, "y": {"datum": 0.684}, "y2": {"datum": 0.58}}},
{"data": {"values": [{}]}, "mark": {"type": "text", "text": "t", "align": "left", "baseline": "middle", "fontSize": 16}, "encoding": {"x": {"datum": 5.656}, "y": {"datum": 0.641}}},
{"data": {"values": [{}]}, "mark": {"type": "text", "text": "FM", "align": "left", "baseline": "middle", "fontSize": 14, "dx": 6, "dy": 8}, "encoding": {"x": {"datum": 5.656}, "y": {"datum": 0.641}}},
{"data": {"values": [{}]}, "mark": {"type": "text", "text": "= 20 nm", "align": "left", "baseline": "middle", "fontSize": 16, "dx": 38.4}, "encoding": {"x": {"datum": 5.656}, "y": {"datum": 0.641}}},
{"data": {"values": [{}]}, "mark": {"type": "text", "text": "(c)", "align": "left", "baseline": "middle", "fontSize": 18}, "encoding": {"x": {"datum": 3.78}, "y": {"datum": 0.439}}},
{"data": {"values": [{}]}, "mark": {"type": "text", "text": "f", "align": "left", "baseline": "alphabetic", "fontSize": 16, "dy": 48}, "encoding": {"x": {"datum": 4.887}, "y": {"datum": 0}}},
{"data": {"values": [{}]}, "mark": {"type": "text", "text": "R", "align": "left", "baseline": "alphabetic", "fontSize": 12, "dx": 7, "dy": 54}, "encoding": {"x": {"datum": 4.887}, "y": {"datum": 0}}},
{"data": {"values": [{}]}, "mark": {"type": "text", "text": "(GHz)", "align": "left", "baseline": "alphabetic", "fontSize": 16, "dx": 19, "dy": 48}, "encoding": {"x": {"datum": 4.887}, "y": {"datum": 0}}}
]
}
]
}
